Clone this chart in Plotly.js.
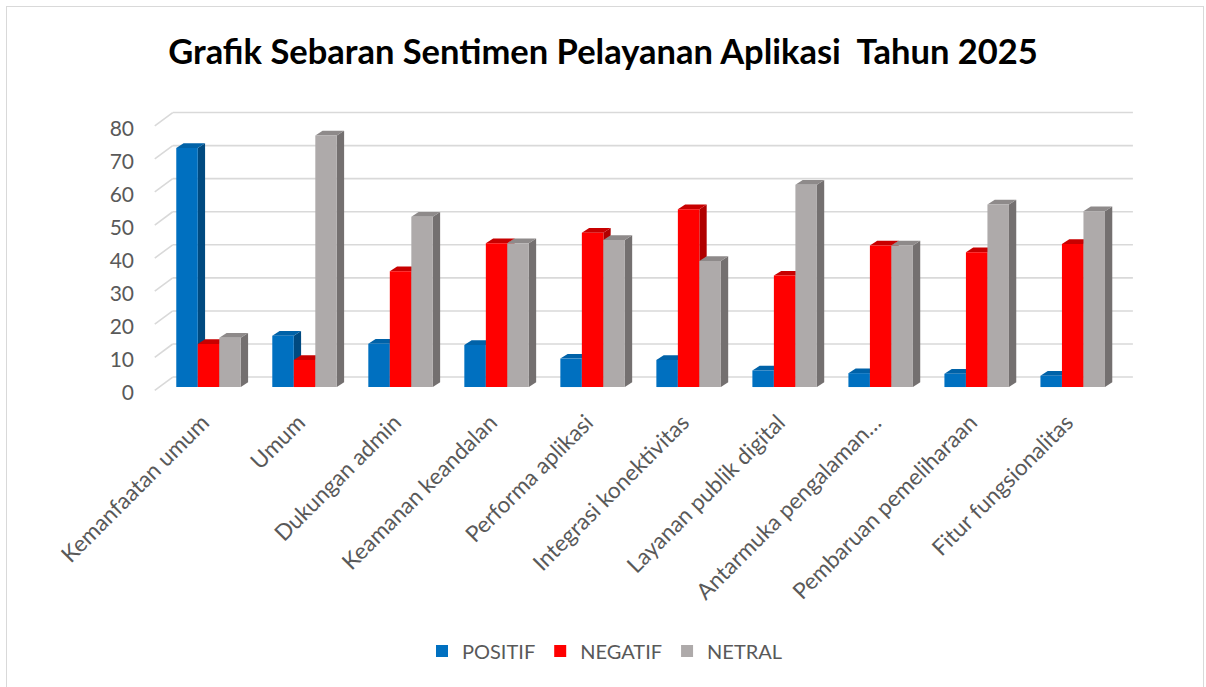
<!DOCTYPE html>
<html><head><meta charset="utf-8">
<script src="https://cdn.plot.ly/plotly-3.0.1.min.js"></script>
<style>
html,body{margin:0;padding:0;background:#fff;overflow:hidden}
#chart{width:1206px;height:687px}
#frame{position:absolute;left:6px;top:6px;width:1198px;height:720px;border:1.5px solid #d9d9d9;pointer-events:none;box-sizing:border-box}
</style></head><body>
<div id="chart"></div><div id="frame"></div>
<script>
// ---- data ----
const categories = ['Kemanfaatan umum','Umum','Dukungan admin','Keamanan keandalan','Performa aplikasi',
  'Integrasi konektivitas','Layanan publik digital','Antarmuka pengalaman…','Pembaruan pemeliharaan','Fitur fungsionalitas'];
const positif = [72.3, 15.5, 13.1, 12.7, 8.6, 8.2, 5.0, 4.2, 4.0, 3.4];
const negatif = [13.0, 8.2, 35.0, 43.5, 46.7, 53.8, 33.7, 42.8, 40.8, 43.3];
const netral  = [14.9, 76.1, 51.5, 43.5, 44.5, 38.1, 61.2, 42.8, 55.2, 53.2];
const seriesNames = ['POSITIF','NEGATIF','NETRAL'];
const yTicks = [0,10,20,30,40,50,60,70,80];
const titleText = 'Grafik Sebaran Sentimen Pelayanan Aplikasi  Tahun 2025';

// ---- styles ----
const frontColors = ['#0070C0','#FF0000','#AEAAAA'];
const sideColors  = ['#004A80','#B00000','#747070'];
const topColors   = ['#0062A8','#C80000','#8E8A8A'];
const FONT = 'Lato, "Noto Sans", sans-serif';
const bargap = 0.328;
const groupW = 1 - bargap;
const barW = groupW / 3;
const depthX = 0.076;   // 3D depth offset (x units)
const depthY = 1.42;    // 3D depth offset (y units)
const wallShift = 3.02; // back wall gridline offset (y units)
const floorFront = -1.0;
const xWallLeft = -0.373, xFrontLeft = -0.56, xWallRight = 9.627;

const xIdx = categories.map((c,i)=>i);
const allSeries = [positif, negatif, netral];

const traces = allSeries.map((vals,k)=>({
  type:'bar', name:seriesNames[k], x:xIdx, y:vals,
  marker:{color:frontColors[k], line:{width:0}},
  hoverinfo:'x+y'
}));

const shapes = [];
// back wall gridlines + floor diagonals
yTicks.forEach(v=>{
  shapes.push({type:'line', xref:'x', yref:'y', layer:'below',
    x0:xWallLeft, x1:xWallRight, y0:v+wallShift, y1:v+wallShift,
    line:{color:'#D9D9D9', width:1.6}});
  shapes.push({type:'line', xref:'x', yref:'y', layer:'below',
    x0:xFrontLeft, x1:xWallLeft, y0:v+floorFront, y1:v+wallShift,
    line:{color:'#D9D9D9', width:1.6}});
});
// 3D side & top faces, derived from data
allSeries.forEach((vals,k)=>{
  vals.forEach((v,i)=>{
    const x0 = i - groupW/2 + k*barW;
    const x1 = x0 + barW;
    shapes.push({type:'path', xref:'x', yref:'y', layer:'below', line:{width:0},
      fillcolor:sideColors[k],
      path:`M${x1},0 L${x1+depthX},${depthY} L${x1+depthX},${v+depthY} L${x1},${v} Z`});
    shapes.push({type:'path', xref:'x', yref:'y', layer:'below', line:{width:0},
      fillcolor:topColors[k],
      path:`M${x0},${v} L${x0+depthX},${v+depthY} L${x1+depthX},${v+depthY} L${x1},${v} Z`});
  });
});

const layout = {
  width:1206, height:687,
  paper_bgcolor:'#FFFFFF', plot_bgcolor:'rgba(0,0,0,0)',
  margin:{l:149, r:68, t:106, b:295},
  barmode:'group', bargap:bargap, bargroupgap:0,
  title:{text:titleText, font:{family:FONT, size:34.5, color:'#000000', weight:'bold'},
    x:0.5, xref:'container', xanchor:'center', y:1-52/687, yref:'container', yanchor:'middle'},
  xaxis:{range:[-0.62, 9.68], tickmode:'array', tickvals:xIdx, ticktext:categories,
    tickangle:-45, showgrid:false, zeroline:false, showline:false, ticks:'',
    ticklabelstandoff:12, ticklabelshift:-6,
    tickfont:{family:FONT, size:22.5, color:'#595959'}, fixedrange:true},
  yaxis:{range:[-1.5, 85], tickmode:'array', tickvals:yTicks, ticktext:yTicks.map(String),
    showgrid:false, zeroline:false, showline:false, ticks:'',
    ticklabelshift:6, ticklabelstandoff:14,
    tickfont:{family:FONT, size:21, color:'#595959'}, fixedrange:true},
  shapes:shapes,
  showlegend:true,
  legend:{orientation:'h', xref:'container', yref:'container', x:422/1206, xanchor:'left',
    y:1-651/687, yanchor:'middle', font:{family:FONT, size:20, color:'#595959'},
    itemwidth:30, traceorder:'normal'}
};

Plotly.newPlot('chart', traces, layout, {displayModeBar:false, staticPlot:true});
</script>
</body></html>
